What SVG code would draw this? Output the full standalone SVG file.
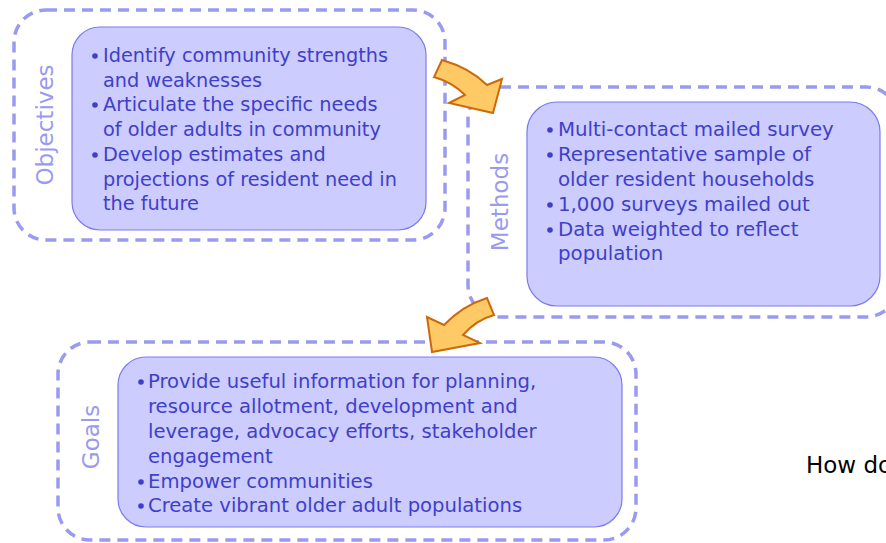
<svg xmlns="http://www.w3.org/2000/svg" width="886" height="543" viewBox="0 0 886 543">
<style>
.outer{fill:none;stroke:#9a9af0;stroke-width:3.5;stroke-dasharray:11 7}
.inner{fill:#ccccfe;stroke:#7b7bef;stroke-width:1.2}
.lbl{font-family:"DejaVu Sans",sans-serif;font-size:23px;fill:#9a9af0;text-anchor:middle}
.t{font-family:"DejaVu Sans",sans-serif;font-size:19.3px;fill:#3f3fc9}
#methods .t{font-size:19.8px}
#goals .t{font-size:19.6px}
.b{fill:#3f3fc9}
.arr{fill:#ffc966;stroke:#cc6a0a;stroke-width:2;stroke-linejoin:miter}
</style>
<rect width="886" height="543" fill="#ffffff"/>
<g id="objectives">
<rect class="outer" x="14" y="10" width="431" height="230" rx="32"/>
<rect class="inner" x="72" y="27" width="354" height="203" rx="28"/>
<text class="lbl" transform="translate(53,125) rotate(-90)">Objectives</text>
<circle class="b" cx="95" cy="56" r="2.8"/>
<circle class="b" cx="95" cy="105" r="2.8"/>
<circle class="b" cx="95" cy="155" r="2.8"/>
<text class="t" x="103" y="62">Identify community strengths</text>
<text class="t" x="103" y="87">and weaknesses</text>
<text class="t" x="103" y="111">Articulate the specific needs</text>
<text class="t" x="103" y="136">of older adults in community</text>
<text class="t" x="103" y="161">Develop estimates and</text>
<text class="t" x="103" y="186">projections of resident need in</text>
<text class="t" x="103" y="210">the future</text>
</g>
<g id="methods">
<rect class="outer" x="468" y="87" width="430" height="230" rx="32"/>
<rect class="inner" x="527" y="102" width="353" height="204" rx="30"/>
<text class="lbl" transform="translate(508,202) rotate(-90)">Methods</text>
<circle class="b" cx="550" cy="130" r="2.8"/>
<circle class="b" cx="550" cy="155" r="2.8"/>
<circle class="b" cx="550" cy="205" r="2.8"/>
<circle class="b" cx="550" cy="230" r="2.8"/>
<text class="t" x="558" y="136">Multi-contact mailed survey</text>
<text class="t" x="558" y="161">Representative sample of</text>
<text class="t" x="558" y="186">older resident households</text>
<text class="t" x="558" y="211">1,000 surveys mailed out</text>
<text class="t" x="558" y="236">Data weighted to reflect</text>
<text class="t" x="558" y="260">population</text>
</g>
<g id="goals">
<rect class="outer" x="58" y="342" width="578" height="198" rx="32"/>
<rect class="inner" x="118" y="357" width="504" height="170" rx="28"/>
<text class="lbl" transform="translate(99,437) rotate(-90)">Goals</text>
<circle class="b" cx="141" cy="382" r="2.8"/>
<circle class="b" cx="141" cy="482" r="2.8"/>
<circle class="b" cx="141" cy="506" r="2.8"/>
<text class="t" x="148" y="388">Provide useful information for planning,</text>
<text class="t" x="148" y="413">resource allotment, development and</text>
<text class="t" x="148" y="438">leverage, advocacy efforts, stakeholder</text>
<text class="t" x="148" y="463">engagement</text>
<text class="t" x="148" y="488">Empower communities</text>
<text class="t" x="148" y="512">Create vibrant older adult populations</text>
</g>
<g id="connectors">
<path class="arr" d="M442,60 Q470,68 487,85 L502,79 L493,113 L449,103 L465,95 Q452,82 434,77 Z"/>
<path class="arr" d="M487,298 Q462,306 444,325 L427,317 L432,352 L480,343 L463,335 Q476,320 494,315 Z"/>
</g>
<g id="caption">
<text x="806" y="473" font-family="DejaVu Sans, sans-serif" font-size="23" fill="#000000">How do</text>
</g>
</svg>
